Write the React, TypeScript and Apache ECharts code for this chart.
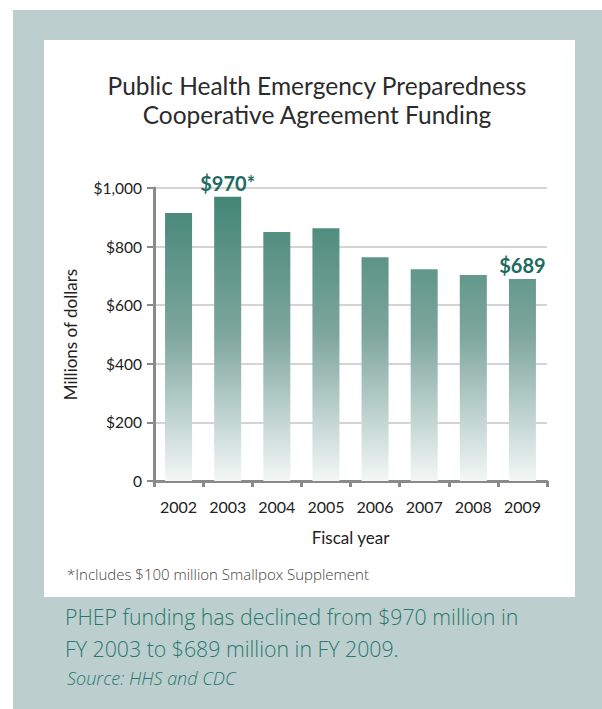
import React, { useEffect, useRef } from "react";
import * as echarts from "echarts";

const years = ["2002", "2003", "2004", "2005", "2006", "2007", "2008", "2009"];
const funding = [915, 970, 850, 863, 764, 723, 703, 689];
const barLabels = ["", "$970*", "", "", "", "", "", "$689"];

const titleLines = ["Public Health Emergency Preparedness", "Cooperative Agreement Funding"];
const footnote = "*Includes $100 million Smallpox Supplement";
const captionLines = ["PHEP funding has declined from $970 million in", "FY 2003 to $689 million in FY 2009."];
const source = "Source: HHS and CDC";

const PANEL = "#bccfce";
const TEAL_TEXT = "#1d6b60";
const CAPTION = "#2a786d";

export default function App() {
  const ref = useRef<HTMLDivElement>(null);
  useEffect(() => {
    document.body.style.margin = "0";
    const chart = echarts.init(ref.current!, undefined, { renderer: "svg" });
    const option: any = {
      animation: false,
      backgroundColor: "#ffffff",
      graphic: [
        { type: "rect", z: -10, shape: { x: 0, y: 0, width: 602, height: 709 }, style: { fill: "#ffffff" } },
        { type: "rect", z: -9, shape: { x: 13, y: 10, width: 589, height: 699 }, style: { fill: PANEL } },
        { type: "rect", z: -8, shape: { x: 44, y: 40, width: 531, height: 557 }, style: { fill: "#ffffff" } },
        {
          type: "text", x: 317, y: 85,
          style: { text: titleLines[0], font: "24.5px Lato", fill: "#2b2b2b", align: "center", verticalAlign: "middle" },
        },
        {
          type: "text", x: 317, y: 114,
          style: { text: titleLines[1], font: "24.5px Lato", fill: "#2b2b2b", align: "center", verticalAlign: "middle" },
        },
        {
          type: "text", x: 67, y: 574,
          style: { text: footnote, font: "300 15px 'Open Sans'", fill: "#444", align: "left", verticalAlign: "middle" },
        },
        {
          type: "text", x: 65, y: 616,
          style: { text: captionLines[0], font: "300 21.3px 'Open Sans'", fill: CAPTION, align: "left", verticalAlign: "middle" },
        },
        {
          type: "text", x: 65, y: 648,
          style: { text: captionLines[1], font: "300 21.3px 'Open Sans'", fill: CAPTION, align: "left", verticalAlign: "middle" },
        },
        {
          type: "text", x: 67, y: 678,
          style: { text: source, font: "italic 300 18px 'Open Sans'", fill: CAPTION, align: "left", verticalAlign: "middle" },
        },
      ],
      grid: { left: 154, right: 55, top: 188, bottom: 228, containLabel: false },
      xAxis: {
        type: "category",
        data: years,
        name: "Fiscal year",
        nameLocation: "middle",
        nameGap: 48,
        nameTextStyle: { fontFamily: "Lato", fontSize: 17, color: "#222" },
        axisLine: { show: true, lineStyle: { color: "#8a8a8a", width: 3 } },
        axisTick: { show: true, inside: false, length: 6, alignWithLabel: false, lineStyle: { color: "#8a8a8a", width: 3 } },
        axisLabel: { fontFamily: "Lato", fontSize: 16, color: "#222", margin: 17 },
      },
      yAxis: {
        type: "value",
        min: 0,
        max: 1000,
        interval: 200,
        name: "Millions of dollars",
        nameLocation: "middle",
        nameRotate: 90,
        nameGap: 75,
        nameTextStyle: { fontFamily: "Lato", fontSize: 17, color: "#222" },
        axisLine: { show: true, lineStyle: { color: "#8a8a8a", width: 3 } },
        axisTick: { show: true, inside: false, length: 7, lineStyle: { color: "#8a8a8a", width: 2 } },
        axisLabel: {
          fontFamily: "Lato",
          fontSize: 15.5,
          color: "#222",
          margin: 12,
          formatter: (v: number) => (v === 0 ? "0" : "$" + v.toLocaleString("en-US")),
        },
        splitLine: { show: true, lineStyle: { color: "#d4d4d4", width: 2 } },
      },
      series: [
        {
          type: "bar",
          barWidth: "55%",
          data: funding.map((v, i) => ({
            value: v,
            label: {
              show: barLabels[i] !== "",
              formatter: barLabels[i],
              position: "top",
              distance: 4,
              fontFamily: "Lato",
              fontWeight: "bold",
              fontSize: 20,
              color: TEAL_TEXT,
            },
          })),
          itemStyle: {
            color: new echarts.graphic.LinearGradient(
              0, 188, 0, 481,
              [
                { offset: 0, color: "#3f8474" },
                { offset: 0.5, color: "#7ea69d" },
                { offset: 1, color: "#f3f7f6" },
              ],
              true
            ),
          },
        },
      ],
    };
    chart.setOption(option);
    return () => chart.dispose();
  }, []);
  return <div ref={ref} style={{ width: 602, height: 709 }} />;
}
